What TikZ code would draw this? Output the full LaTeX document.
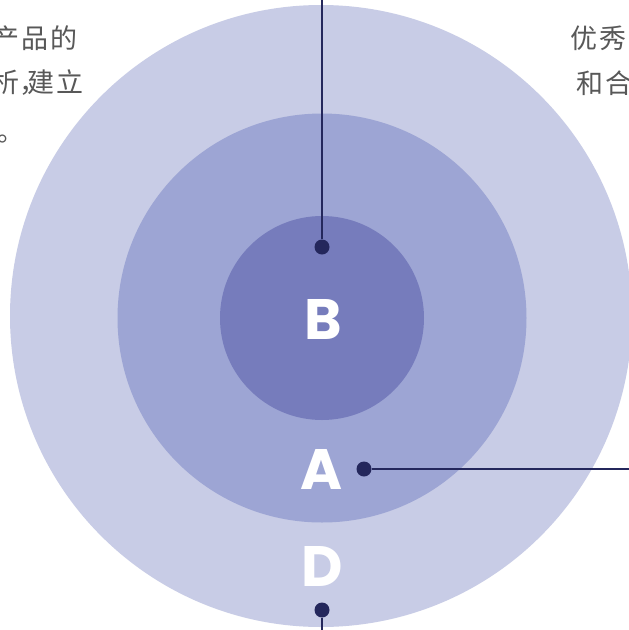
\documentclass[tikz,border=0pt]{standalone}
\usepackage{fontspec}
\newfontfamily\cjk{Noto Sans CJK SC}[LetterSpace=8]
\newfontfamily\lat{Poppins}
\definecolor{outerc}{RGB}{200,204,230}
\definecolor{midc}{RGB}{157,165,212}
\definecolor{innerc}{RGB}{118,124,188}
\definecolor{dotc}{RGB}{36,39,92}
\definecolor{txtc}{RGB}{88,88,88}
\tikzset{
  ring/.style={circle, inner sep=0pt, draw=none},
  letter/.style={text=white, font=\lat\bfseries\fontsize{57}{57}\selectfont, inner sep=0pt},
  pin/.style={circle, fill=dotc, inner sep=0pt, minimum size=15pt},
  lead/.style={draw=dotc, line width=2pt},
  note/.style={text=txtc, font=\cjk\fontsize{27}{27}\selectfont, inner sep=0pt}
}
\begin{document}
\begin{tikzpicture}[x=1pt,y=-1pt]
\useasboundingbox (0,0) rectangle (629,630);
\clip (0,0) rectangle (629,630);
\fill[white] (0,0) rectangle (629,630);
\node[ring, fill=outerc, minimum size=622pt] (outer) at (321,316) {};
\node[ring, fill=midc, minimum size=409pt] (mid) at (322,318) {};
\node[ring, fill=innerc, minimum size=204pt] (inner) at (322,318) {};
\node[letter] (B) at (323,319) {B};
\node[letter] (A) at (322,469) {A};
\node[letter] (D) at (322,566) {D};
\node[pin] (pb) at (322,247) {};
\node[pin] (pa) at (364,469) {};
\node[pin] (pd) at (322,610) {};
\coordinate (eb) at (322,0);
\coordinate (ea) at (629,469);
\coordinate (ed) at (322,630);
\draw[lead] (pb) -- (eb);
\draw[lead] (pa) -- (ea);
\draw[lead] (pd) -- (ed);
\node[note, anchor=east] (t1) at (78,38) {产品的};
\node[note, anchor=east] (t2) at (84,83) {析\makebox[0.3em][l]{，}建立};
\node[note, anchor=base west] (t3) at (-3,141) {。};
\node[note, anchor=west] (t4) at (570,38) {优秀};
\node[note, anchor=west] (t5) at (576,83) {和合};
\end{tikzpicture}
\end{document}
